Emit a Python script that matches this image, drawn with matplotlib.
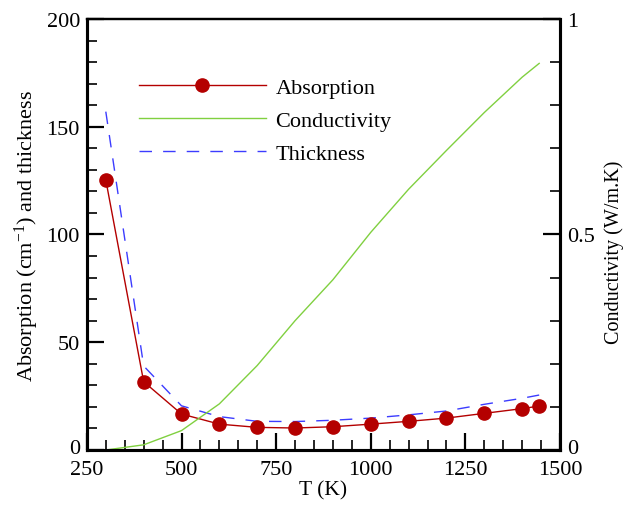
import matplotlib
matplotlib.use("Agg")
import matplotlib.pyplot as plt
import matplotlib.transforms as mtrans
from matplotlib.ticker import MultipleLocator

plt.rcParams["font.family"] = ["Liberation Serif", "DejaVu Serif"]
plt.rcParams["mathtext.default"] = "regular"

# ---- data ----
T = [300, 400, 500, 600, 700, 800, 900, 1000, 1100, 1200, 1300, 1400, 1445]
absorption = [125.3, 31.7, 16.7, 12.0, 10.5, 10.2, 10.8, 12.0, 13.3, 14.8, 17.0, 19.2, 20.4]
thickness = [157.0, 39.0, 20.5, 15.5, 13.3, 13.2, 13.8, 14.8, 16.3, 18.1, 21.2, 24.0, 25.5]
conductivity = [0.0, 0.012, 0.045, 0.107, 0.196, 0.300, 0.395, 0.505, 0.605, 0.695, 0.783, 0.865, 0.897]

RED = "#b40000"
GREEN = "#80d040"
BLUE = "#3c3cff"

fig = plt.figure(figsize=(6.25, 5.06), dpi=100)
ax = fig.add_axes([0.139, 0.1087, 0.757, 0.8518])
ax2 = ax.twinx()

l1, = ax.plot(T, absorption, color=RED, lw=1.0, marker="o", ms=9.5,
              mfc=RED, mec=RED, label="Absorption", zorder=3)
l2, = ax2.plot(T, conductivity, color=GREEN, lw=1.0, label="Conductivity")
l3, = ax.plot(T, thickness, color=BLUE, lw=1.0, dashes=(9, 8), label="Thickness")

ax.set_xlim(250, 1500)
ax.set_ylim(0, 200)
ax2.set_ylim(0, 1)

ax.xaxis.set_major_locator(MultipleLocator(250))
ax.xaxis.set_minor_locator(MultipleLocator(50))
ax.set_yticks([0, 50, 100, 150, 200])
ax.yaxis.set_minor_locator(MultipleLocator(10))
ax2.set_yticks([0, 0.5, 1])
ax2.set_yticklabels(["0", "0.5", "1"])
ax2.yaxis.set_minor_locator(MultipleLocator(0.1))

for a in (ax, ax2):
    a.tick_params(which="major", direction="in", length=12, width=1.6,
                  labelsize=16, pad=5)
    a.tick_params(which="minor", direction="in", length=7, width=1.2)
ax.tick_params(top=False, right=False, which="both")
ax.tick_params(axis="x", pad=7)
ax2.tick_params(left=False, which="both")

for a in (ax, ax2):
    for s in ("left", "bottom", "right"):
        a.spines[s].set_linewidth(2.2)
    a.spines["top"].set_linewidth(1.6)

# the "0" labels sit a little above the bottom spine, as in the original
up = mtrans.ScaledTranslation(0, 3 / 72, fig.dpi_scale_trans)
for lbl in (ax.yaxis.get_major_ticks()[0].label1, ax2.yaxis.get_major_ticks()[0].label2):
    lbl.set_transform(lbl.get_transform() + up)

ax.set_xlabel("T (K)", fontsize=15.5, labelpad=1)
ax.set_ylabel("Absorption (cm$^{-1}$) and thickness", fontsize=16, labelpad=4)
ax2.set_ylabel("Conductivity (W/m.K)", fontsize=14.5, labelpad=7)
ax2.yaxis.label.set_y(0.462)

ax.legend(handles=[l1, l2, l3], loc="upper left", bbox_to_anchor=(0.11, 0.864),
          frameon=False, fontsize=16, handlelength=5.7, handletextpad=0.45,
          labelspacing=0.55, borderpad=0, borderaxespad=0, numpoints=1)

fig.savefig("out.png", dpi=100)
